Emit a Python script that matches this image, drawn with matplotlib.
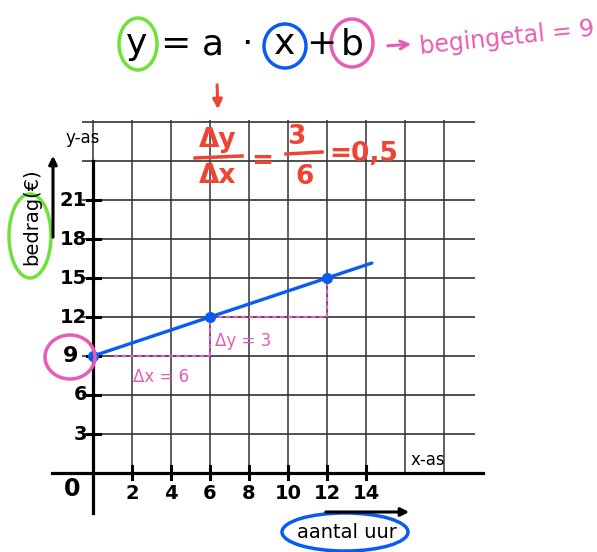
import matplotlib
matplotlib.use("Agg")
import matplotlib.pyplot as plt
from matplotlib.patches import Ellipse
import numpy as np

# gegevens
x_punten = [0, 6, 12]
y_punten = [9, 12, 15]
x_lijn = [0, 14.3]
a = 0.5
b = 9
x_ticks = [2, 4, 6, 8, 10, 12, 14]
y_ticks = [3, 6, 9, 12, 15, 18, 21]
x_grid = [0, 2, 4, 6, 8, 10, 12, 14, 16, 18]
y_grid = [3, 6, 9, 12, 15, 18, 21, 24, 27]

ROOD = "#ee4433"
ROZE = "#e85cb5"
BLAUW = "#0a5cf0"
GROEN = "#6fe23a"

# schaal: pixels per eenheid
SX = 19.5
SY = 13.0
X0, Y0 = 93, 473


def px(u, v):
    # pixelpositie -> datacoordinaten
    return (u - X0) / SX, (Y0 - v) / SY


fig = plt.figure(figsize=(5.97, 5.52), dpi=100)
ax = fig.add_axes([0, 0, 1, 1])
ax.set_xlim(-X0 / SX, (597 - X0) / SX)
ax.set_ylim((Y0 - 552) / SY, Y0 / SY)
ax.axis("off")

# rooster
ax.hlines(y_grid, -0.56, 19.6, color="#222222", lw=1.1, zorder=1)
ax.vlines(x_grid, 0, 27.15, color="#333333", lw=1.1, zorder=1)

# assen
ax.plot([-2.1, 20.0], [0, 0], color="black", lw=2.3, zorder=3)
ax.plot([0, 0], [-3.1, 24], color="black", lw=2.3, zorder=3)
for t in y_ticks:
    ax.plot([-0.3, 0.35], [t, t], color="black", lw=2.2, zorder=3)
    if t == b:
        ax.text(*px(71, 356), str(t), ha="center", va="center", fontsize=16,
                fontweight="bold", zorder=4)
    else:
        ax.text(-0.3, t, str(t), ha="right", va="center", fontsize=14,
                fontweight="bold", zorder=4)
for t in x_ticks:
    ax.plot([t, t], [-0.45, 0.55], color="black", lw=2.2, zorder=3)
    ax.text(t, -1.6, str(t), ha="center", va="center", fontsize=14,
            fontweight="bold", zorder=4)
ax.text(*px(72, 489), "0", ha="center", va="center", fontsize=17,
        fontweight="bold")

ax.text(*px(83, 138), "y-as", ha="center", va="center", fontsize=12)
ax.text(*px(428, 460), "x-as", ha="center", va="center", fontsize=12)

# lijn y = a*x + b
x_l = np.array(x_lijn)
ax.plot(x_l, a * x_l + b, color=BLAUW, lw=2.4, zorder=5,
        solid_capstyle="round")
ax.plot(x_punten, y_punten, "o", color=BLAUW, ms=7, zorder=6)

# hellingsdriehoeken
stippel = dict(color=ROZE, lw=1.6, ls=(0, (2, 1.5)), zorder=4)
ax.plot([1.1, x_punten[1]], [y_punten[0], y_punten[0]], **stippel)
ax.plot([x_punten[1], x_punten[1]], [y_punten[0], y_punten[1]], **stippel)
ax.plot([x_punten[1], x_punten[2]], [y_punten[1], y_punten[1]], **stippel)
ax.plot([x_punten[2], x_punten[2]], [y_punten[1], y_punten[2]], **stippel)
ax.text(*px(161, 377), "Δx = 6", ha="center", va="center", fontsize=12,
        color=ROZE)
ax.text(*px(243, 341), "Δy = 3", ha="center", va="center", fontsize=12,
        color=ROZE)

# cirkel om 9
ax.add_patch(Ellipse(px(70, 357), 50 / SX, 44 / SY, fill=False,
                     ec=ROZE, lw=2.5, zorder=7))

# y-as label
ax.text(*px(32, 217), "bedrag(€)", rotation=90, ha="center", va="center",
        fontsize=14)
ax.add_patch(Ellipse(px(30, 236), 42 / SX, 84 / SY, fill=False,
                     ec=GROEN, lw=2.5))
ax.annotate("", xy=px(53, 153), xytext=px(53, 240),
            arrowprops=dict(arrowstyle="-|>", color="black", lw=2.2,
                            mutation_scale=12))

# x-as label
ax.text(*px(347, 533), "aantal uur", ha="center", va="center", fontsize=14)
ax.add_patch(Ellipse(px(345, 532), 126 / SX, 38 / SY, fill=False,
                     ec=BLAUW, lw=2.5))
ax.annotate("", xy=px(412, 512), xytext=px(323, 512),
            arrowprops=dict(arrowstyle="-|>", color="black", lw=2.2,
                            mutation_scale=12))

# formule bovenaan
formule = [("y", 137), ("=", 175), ("a", 213), ("·", 247), ("x", 285),
           ("+", 321), ("b", 352)]
for teken, u in formule:
    ax.text(*px(u, 44), teken, ha="center", va="center", fontsize=26)
ax.add_patch(Ellipse(px(138, 44), 38 / SX, 52 / SY, fill=False,
                     ec=GROEN, lw=2.5))
ax.add_patch(Ellipse(px(285, 46), 42 / SX, 44 / SY, fill=False,
                     ec=BLAUW, lw=2.5))
ax.add_patch(Ellipse(px(352, 43), 42 / SX, 48 / SY, fill=False,
                     ec=ROZE, lw=2.5))
ax.annotate("", xy=px(414, 44), xytext=px(385, 46),
            arrowprops=dict(arrowstyle="->", color=ROZE, lw=2.2,
                            mutation_scale=14))
ax.text(*px(507, 38), "begingetal = 9", ha="center", va="center",
        fontsize=17, color=ROZE, rotation=6)

# helling a
ax.annotate("", xy=px(218, 112), xytext=px(217, 82),
            arrowprops=dict(arrowstyle="-|>", color=ROOD, lw=2.2,
                            mutation_scale=14))
ax.text(*px(218, 140), "Δy", ha="center", va="center", fontsize=19,
        color=ROOD, fontweight="bold")
ax.plot(*zip(px(195, 158), px(242, 156)), color=ROOD, lw=2.5)
ax.text(*px(218, 176), "Δx", ha="center", va="center", fontsize=19,
        color=ROOD, fontweight="bold")
ax.text(*px(262, 161), "=", ha="center", va="center", fontsize=19,
        color=ROOD, fontweight="bold")
ax.text(*px(296, 137), "3", ha="center", va="center", fontsize=19,
        color=ROOD, fontweight="bold")
ax.plot(*zip(px(286, 154), px(322, 152)), color=ROOD, lw=2.5)
ax.text(*px(305, 177), "6", ha="center", va="center", fontsize=19,
        color=ROOD, fontweight="bold")
ax.text(*px(364, 154), "=0,5", ha="center", va="center", fontsize=19,
        color=ROOD, fontweight="bold")

plt.savefig("out.png", dpi=100)
